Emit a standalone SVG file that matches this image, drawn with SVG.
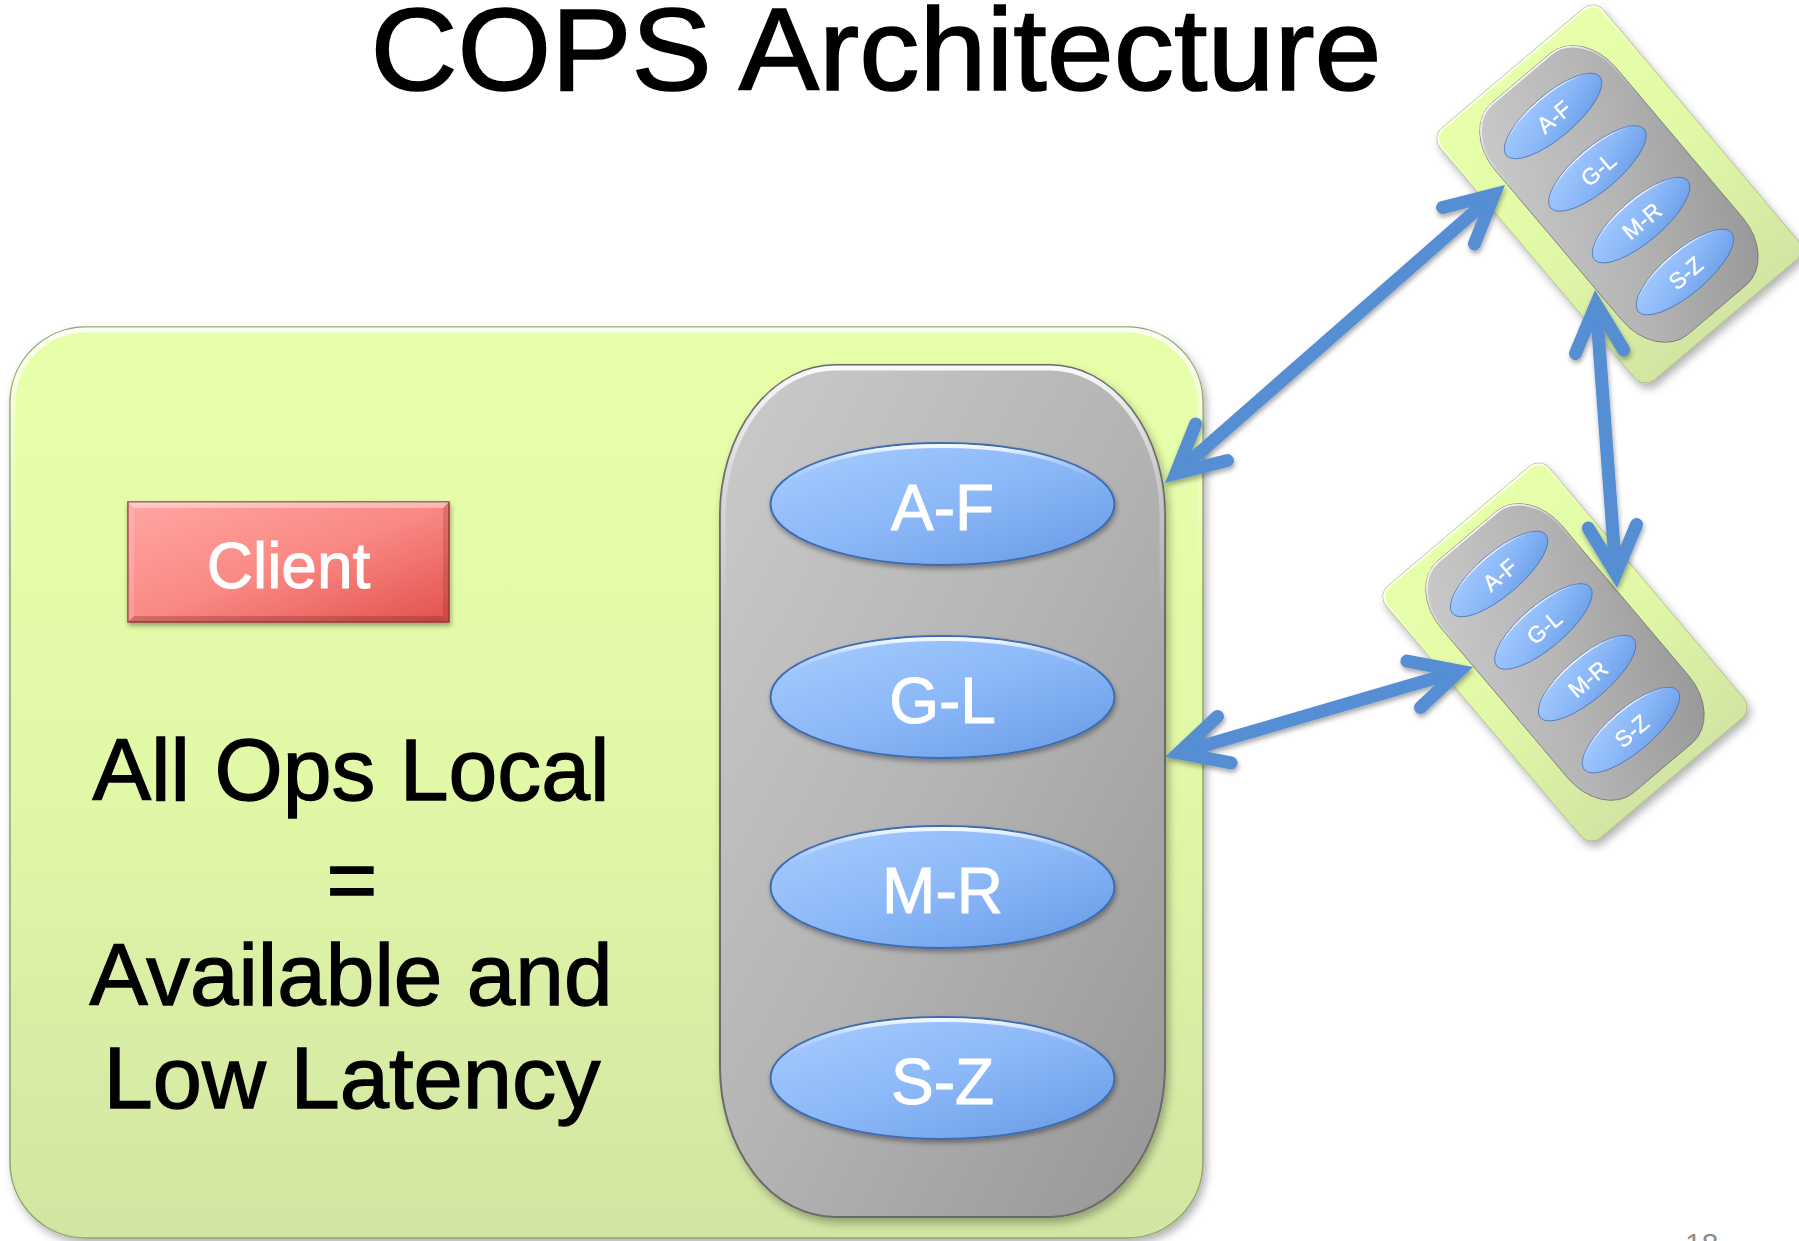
<svg xmlns="http://www.w3.org/2000/svg" width="1799" height="1241" viewBox="0 0 1799 1241">
  <style>
    .sans { font-family: "Liberation Sans", Arial, Helvetica, sans-serif; }
    .title { font-size: 117px; fill: #000; stroke: #000; stroke-width: 1.6; }
    .body { font-size: 87px; fill: #000; stroke: #000; stroke-width: 1.3; text-anchor: middle; }
    .lbl { font-size: 64px; fill: #fff; stroke: #fff; stroke-width: 1; text-anchor: middle; }
    .site { fill: url(#gGreen); stroke: #93a36e; stroke-width: 1.5; }
    .siteRim { fill: none; stroke: url(#gRim); stroke-width: 5; }
    .pill { fill: url(#gGray); stroke: #6a6a6a; stroke-width: 2; }
    .pillRim { fill: none; stroke: url(#gRim); stroke-width: 5; }
    .part { fill: url(#gBlue); stroke: #3f6cae; stroke-width: 2; }
    .partRim { fill: none; stroke: url(#gRim); stroke-width: 4; }
    .conn { fill: none; stroke: #568ED4; stroke-width: 13; marker-start: url(#chev); marker-end: url(#chev); }
  </style>
  <defs>
    <linearGradient id="gGreen" x1="0" y1="0" x2="0" y2="1">
      <stop offset="0" stop-color="#E8FFAA"/>
      <stop offset="0.5" stop-color="#E1F8A7"/>
      <stop offset="1" stop-color="#D2E5A3"/>
    </linearGradient>
    <linearGradient id="gGray" x1="0" y1="0" x2="1" y2="1">
      <stop offset="0" stop-color="#CBCBCB"/>
      <stop offset="0.5" stop-color="#B4B4B4"/>
      <stop offset="1" stop-color="#969696"/>
    </linearGradient>
    <linearGradient id="gBlue" x1="0" y1="0" x2="1" y2="1">
      <stop offset="0" stop-color="#A9CDFF"/>
      <stop offset="0.5" stop-color="#8BB8F8"/>
      <stop offset="1" stop-color="#6699E4"/>
    </linearGradient>
    <linearGradient id="gRed" x1="0" y1="0" x2="1" y2="1">
      <stop offset="0" stop-color="#FFA6A3"/>
      <stop offset="0.5" stop-color="#FA8984"/>
      <stop offset="1" stop-color="#E2524D"/>
    </linearGradient>
    <linearGradient id="gRim" x1="0" y1="0" x2="0" y2="1">
      <stop offset="0" stop-color="#fff" stop-opacity="0.9"/>
      <stop offset="0.12" stop-color="#fff" stop-opacity="0.35"/>
      <stop offset="0.3" stop-color="#fff" stop-opacity="0"/>
    </linearGradient>
    <filter id="shadow" x="-10%" y="-10%" width="125%" height="125%">
      <feDropShadow dx="3" dy="5" stdDeviation="4" flood-color="#000" flood-opacity="0.3"/>
    </filter>
    <filter id="shadowSm" x="-10%" y="-20%" width="125%" height="150%">
      <feDropShadow dx="1" dy="3" stdDeviation="2.5" flood-color="#000" flood-opacity="0.35"/>
    </filter>
    <!-- open chevron head for the two-way replication links -->
    <marker id="chev" markerUnits="userSpaceOnUse" viewBox="-70 -40 90 80" markerWidth="90" markerHeight="80" refX="0" refY="0" orient="auto-start-reverse" overflow="visible">
      <path d="M-47.5,-24.2 L0,0 L-47.5,24.2" fill="none" stroke="#568ED4" stroke-width="13" stroke-linecap="round" stroke-linejoin="miter"/>
    </marker>
  </defs>

  <rect width="1799" height="1241" fill="#fff"/>

  <text class="sans title" x="876" y="90" text-anchor="middle" textLength="1011" lengthAdjust="spacingAndGlyphs">COPS Architecture</text>

  <!-- local datacenter with client and partitioned store -->
  <g id="site-local">
    <rect class="site" x="10" y="327" width="1193" height="911" rx="76" ry="76" filter="url(#shadow)"/>
    <rect class="siteRim" x="13" y="330" width="1187" height="905" rx="73" ry="73"/>

    <g id="client" filter="url(#shadowSm)">
      <rect x="128" y="502" width="321" height="120" fill="url(#gRed)" stroke="#9B3B3B" stroke-width="1.5"/>
      <polygon points="128,502 449,502 443,508 134,508" fill="#fff" fill-opacity="0.4"/>
      <polygon points="128,622 449,622 443,616 134,616" fill="#7a2020" fill-opacity="0.3"/>
      <polygon points="128,502 134,508 134,616 128,622" fill="#fff" fill-opacity="0.15"/>
      <polygon points="449,502 443,508 443,616 449,622" fill="#7a2020" fill-opacity="0.2"/>
      <text class="sans lbl" x="288.5" y="588">Client</text>
    </g>

    <g id="caption">
      <text class="sans body" x="351" y="800" textLength="517" lengthAdjust="spacingAndGlyphs">All Ops Local</text>
      <text class="sans body" x="352" y="910">=</text>
      <text class="sans body" x="351" y="1005" textLength="523" lengthAdjust="spacingAndGlyphs">Available and</text>
      <text class="sans body" x="352" y="1108" textLength="497" lengthAdjust="spacingAndGlyphs">Low Latency</text>
    </g>

    <g id="store-local">
      <rect class="pill" x="720" y="365" width="445" height="852" rx="115" ry="150" filter="url(#shadow)"/>
      <rect class="pillRim" x="723" y="368" width="439" height="846" rx="112" ry="147"/>
      <g id="local-af">
        <ellipse class="part" cx="942.5" cy="504" rx="172" ry="61" filter="url(#shadowSm)"/>
        <ellipse class="partRim" cx="942.5" cy="504" rx="169" ry="58"/>
        <text class="sans lbl" x="942.5" y="530">A-F</text>
      </g>
      <g id="local-gl">
        <ellipse class="part" cx="942.5" cy="697" rx="172" ry="61" filter="url(#shadowSm)"/>
        <ellipse class="partRim" cx="942.5" cy="697" rx="169" ry="58"/>
        <text class="sans lbl" x="942.5" y="723">G-L</text>
      </g>
      <g id="local-mr">
        <ellipse class="part" cx="942.5" cy="887" rx="172" ry="61" filter="url(#shadowSm)"/>
        <ellipse class="partRim" cx="942.5" cy="887" rx="169" ry="58"/>
        <text class="sans lbl" x="942.5" y="913">M-R</text>
      </g>
      <g id="local-sz">
        <ellipse class="part" cx="942.5" cy="1078" rx="172" ry="61" filter="url(#shadowSm)"/>
        <ellipse class="partRim" cx="942.5" cy="1078" rx="169" ry="58"/>
        <text class="sans lbl" x="942.5" y="1104">S-Z</text>
      </g>
    </g>
  </g>

  <!-- remote datacenter, upper right -->
  <g id="site-remote-1" filter="url(#shadow)">
    <g transform="translate(1619,194) rotate(-40.2) scale(0.356)">
      <rect class="site" x="-300" y="-463" width="600" height="926" rx="40" ry="40"/>
      <rect class="siteRim" x="-296" y="-459" width="592" height="918" rx="36" ry="36"/>
      <rect class="pill" x="-222.5" y="-426" width="445" height="852" rx="115" ry="150"/>
      <rect class="pillRim" x="-219.5" y="-423" width="439" height="846" rx="112" ry="147"/>
      <ellipse class="part" cx="0" cy="-287" rx="172" ry="61"/>
      <ellipse class="partRim" cx="0" cy="-287" rx="169" ry="58"/>
      <text class="sans lbl" x="0" y="-261">A-F</text>
      <ellipse class="part" cx="0" cy="-94" rx="172" ry="61"/>
      <ellipse class="partRim" cx="0" cy="-94" rx="169" ry="58"/>
      <text class="sans lbl" x="0" y="-68">G-L</text>
      <ellipse class="part" cx="0" cy="96" rx="172" ry="61"/>
      <ellipse class="partRim" cx="0" cy="96" rx="169" ry="58"/>
      <text class="sans lbl" x="0" y="122">M-R</text>
      <ellipse class="part" cx="0" cy="287" rx="172" ry="61"/>
      <ellipse class="partRim" cx="0" cy="287" rx="169" ry="58"/>
      <text class="sans lbl" x="0" y="313">S-Z</text>
    </g>
  </g>

  <!-- remote datacenter, lower right -->
  <g id="site-remote-2" filter="url(#shadow)">
    <g transform="translate(1565,652) rotate(-40.2) scale(0.356)">
      <rect class="site" x="-300" y="-463" width="600" height="926" rx="40" ry="40"/>
      <rect class="siteRim" x="-296" y="-459" width="592" height="918" rx="36" ry="36"/>
      <rect class="pill" x="-222.5" y="-426" width="445" height="852" rx="115" ry="150"/>
      <rect class="pillRim" x="-219.5" y="-423" width="439" height="846" rx="112" ry="147"/>
      <ellipse class="part" cx="0" cy="-287" rx="172" ry="61"/>
      <ellipse class="partRim" cx="0" cy="-287" rx="169" ry="58"/>
      <text class="sans lbl" x="0" y="-261">A-F</text>
      <ellipse class="part" cx="0" cy="-94" rx="172" ry="61"/>
      <ellipse class="partRim" cx="0" cy="-94" rx="169" ry="58"/>
      <text class="sans lbl" x="0" y="-68">G-L</text>
      <ellipse class="part" cx="0" cy="96" rx="172" ry="61"/>
      <ellipse class="partRim" cx="0" cy="96" rx="169" ry="58"/>
      <text class="sans lbl" x="0" y="122">M-R</text>
      <ellipse class="part" cx="0" cy="287" rx="172" ry="61"/>
      <ellipse class="partRim" cx="0" cy="287" rx="169" ry="58"/>
      <text class="sans lbl" x="0" y="313">S-Z</text>
    </g>
  </g>

  <!-- replication links between datacenters -->
  <g id="connectors" filter="url(#shadowSm)">
    <path class="conn" d="M1175.8,473.6 L1494.2,194.4"/>
    <path class="conn" d="M1178.7,753 L1459.3,671"/>
    <path class="conn" d="M1596.1,304.3 L1615.9,573.7"/>
  </g>

  <text class="sans" x="1685" y="1254" font-size="30" fill="#8e8e8e">18</text>
</svg>
